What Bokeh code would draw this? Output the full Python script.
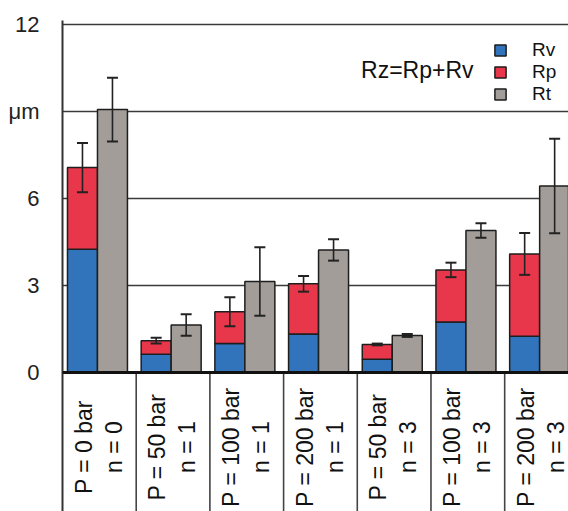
import numpy as np
from bokeh.plotting import figure
from bokeh.models import (ColumnDataSource, Range1d, FixedTicker, Span, Whisker,
                          TeeHead, Legend, LegendItem, Label)
from bokeh.core.properties import value
from bokeh.embed import file_html
from bokeh.resources import INLINE

# ---------------- data ----------------
categories = ["P = 0 bar\nn = 0", "P = 50 bar\nn = 1", "P = 100 bar\nn = 1",
              "P = 200 bar\nn = 1", "P = 50 bar\nn = 3", "P = 100 bar\nn = 3",
              "P = 200 bar\nn = 3"]
rv = [4.25, 0.63, 1.00, 1.33, 0.46, 1.74, 1.25]
rp = [2.82, 0.47, 1.10, 1.73, 0.51, 1.80, 2.84]
rz_err = [0.85, 0.10, 0.50, 0.27, 0.03, 0.25, 0.72]
rt = [9.07, 1.64, 3.14, 4.23, 1.28, 4.90, 6.43]
rt_err = [1.10, 0.37, 1.18, 0.37, 0.05, 0.25, 1.63]
y_ticks = [0, 3, 6, 9, 12]
y_tick_labels = {0: "0", 3: "3", 6: "6", 9: "μm", 12: "12"}
grid_ticks = [3, 6, 9, 12]

# ---------------- styling / layout ----------------
FONT = "Liberation Sans"
BLUE, RED, GRAY = "#3274BC", "#E8374A", "#A29D98"
EDGE = "#1e1e1e"
BAR_W = 0.407
OFF_Z, OFF_T = 0.271, 0.678

n = len(categories)
idx = np.arange(n)
rv_a = np.array(rv)
rz_a = rv_a + np.array(rp)
rt_a = np.array(rt)

src = ColumnDataSource(dict(
    xz=idx + OFF_Z, xt=idx + OFF_T, rv=rv_a, rz=rz_a, rt=rt_a,
    z_up=rz_a + np.array(rz_err), z_lo=rz_a - np.array(rz_err),
    t_up=rt_a + np.array(rt_err), t_lo=rt_a - np.array(rt_err),
    xl=idx + 0.49, lab=categories,
))

Y0, Y1 = -4.79, 12.14
p = figure(width=568, height=511, x_range=Range1d(0, 6.866), y_range=Range1d(Y0, Y1),
           x_axis_location=None, output_backend="svg", toolbar_location=None,
           min_border_left=62, min_border_right=0, min_border_top=20, min_border_bottom=0,
           outline_line_color=None, background_fill_color="white",
           border_fill_color="white")

# grid
p.xgrid.visible = False
p.ygrid.ticker = FixedTicker(ticks=grid_ticks)
p.ygrid.grid_line_color = "#3a3a3a"
p.ygrid.grid_line_width = 1.6

# y axis
ax = p.yaxis[0]
ax.ticker = FixedTicker(ticks=y_ticks)
ax.major_label_overrides = y_tick_labels
ax.axis_line_color = "#333333"
ax.axis_line_width = 2
ax.major_tick_line_color = None
ax.minor_tick_line_color = None
ax.major_label_standoff = 17
ax.major_label_text_font = FONT
ax.major_label_text_font_size = "22px"
ax.major_label_text_color = "#222222"

# bars
r_rv = p.vbar(x="xz", bottom=0, top="rv", width=BAR_W, source=src,
              fill_color=BLUE, line_color=EDGE, line_width=1.5)
r_rp = p.vbar(x="xz", bottom="rv", top="rz", width=BAR_W, source=src,
              fill_color=RED, line_color=EDGE, line_width=1.5)
r_rt = p.vbar(x="xt", bottom=0, top="rt", width=BAR_W, source=src,
              fill_color=GRAY, line_color=EDGE, line_width=1.5)

# error bars
for up, lo, base in [("z_up", "z_lo", "xz"), ("t_up", "t_lo", "xt")]:
    w = Whisker(base=base, upper=up, lower=lo, source=src, dimension="height",
                line_color="#222222", line_width=1.6, level="annotation",
                upper_head=TeeHead(size=11, line_color="#222222", line_width=2),
                lower_head=TeeHead(size=11, line_color="#222222", line_width=2))
    p.add_layout(w)

# baseline and table lines
p.add_layout(Span(location=0, dimension="width", line_color="#111111", line_width=3))
bounds = np.arange(1, n + 1)
p.segment(x0=bounds, y0=Y0, x1=bounds, y1=0, line_color="#444444", line_width=1.6)

# category labels (rotated)
p.text(x="xl", y=-2.57, text="lab", source=src, angle=np.pi / 2,
       text_align="center", text_baseline="middle", text_font=value(FONT),
       text_font_size="23px", text_line_height=1.15, text_color="#111111")

# formula label
p.add_layout(Label(x=5.577, y=10.45, text="Rz=Rp+Rv", text_align="right",
                   text_baseline="middle", text_font=FONT, text_font_size="23px",
                   text_color="#111111"))

# legends
for name, rend, vy in [("Rv", r_rv, 450), ("Rp", r_rp, 428), ("Rt", r_rt, 406)]:
    lg = Legend(items=[LegendItem(label=name, renderers=[rend])], location=(431, vy),
                glyph_width=14, glyph_height=14, label_standoff=25, padding=0,
                margin=0, spacing=0, border_line_color=None, background_fill_alpha=0,
                label_text_font=FONT, label_text_font_size="19px",
                label_text_color="#111111")
    p.add_layout(lg)

open("out.html", "w").write(file_html(p, INLINE))
